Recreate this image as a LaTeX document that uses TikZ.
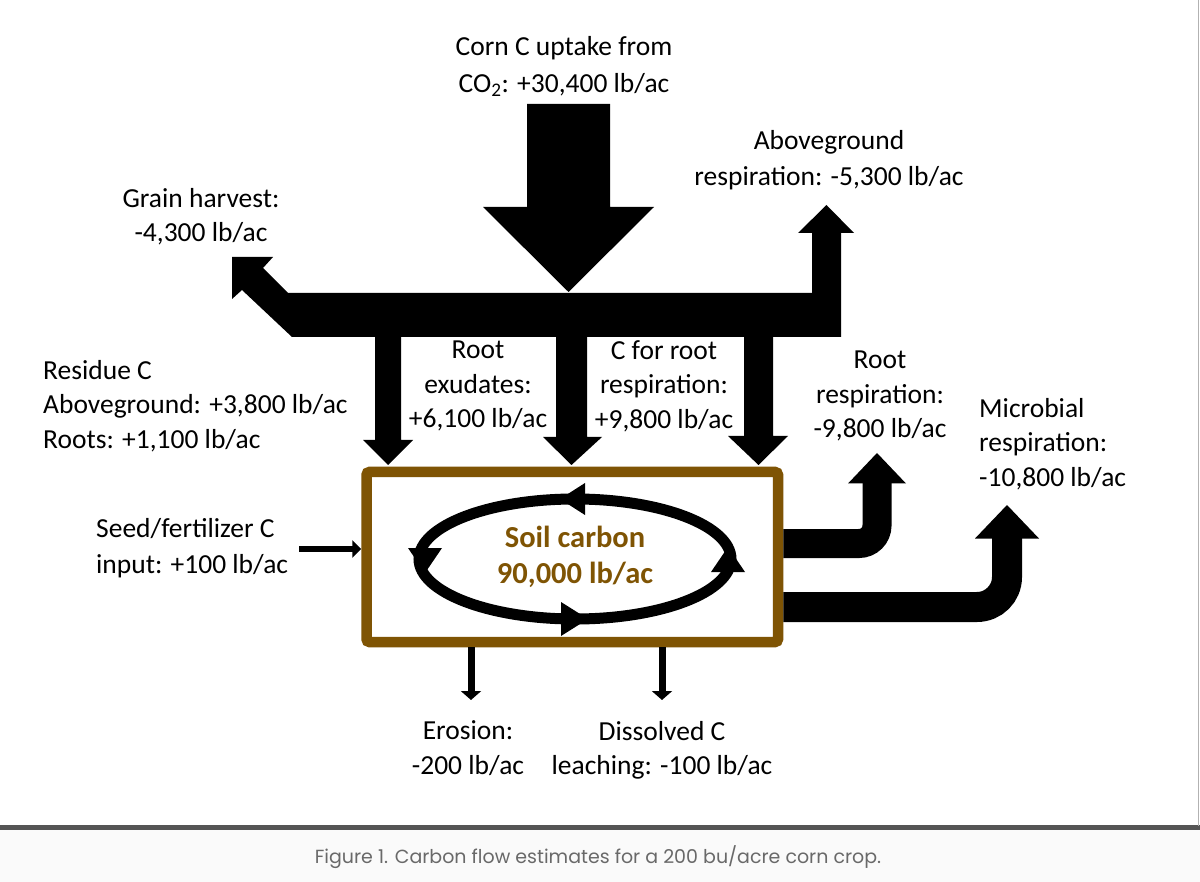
\documentclass[tikz,border=0pt]{standalone}
\usepackage{fontspec}
\setmainfont{Carlito}
\newfontfamily\capfont{Poppins}
\usetikzlibrary{arrows.meta}
\definecolor{soilbrown}{RGB}{127,84,4}
\definecolor{capgray}{RGB}{105,105,105}
\definecolor{rulegray}{RGB}{85,85,85}
\begin{document}
\begin{tikzpicture}[x=1pt,y=-1pt,
  txt/.style={font=\fontsize{27.5}{34.5}\selectfont, inner sep=0pt, align=center},
  ltxt/.style={font=\fontsize{27.5}{34.5}\selectfont, inner sep=0pt, align=left, anchor=west},
  blk/.style={fill=black},
  thinarrow/.style={draw=black, line width=7pt, -{Triangle[length=9pt,width=20pt]}},
  bendarrow/.style={draw=black, line cap=butt}]
\useasboundingbox (0,0) rectangle (1200,882);
\fill[white] (0,0) rectangle (1200,882);
\fill[black!2] (0,827) rectangle (1200,882);
\draw[line width=4.5pt, rulegray] (0,827.5) -- (1200,827.5);
\draw[line width=1.5pt, black!30] (1198.5,0) -- (1198.5,826);

% big input arrow
\fill[blk] (527,104) -- (610,104) -- (610,207) -- (654,207) -- (568.5,292) -- (483,207) -- (527,207) -- cycle;
% main bar with grain harvest and aboveground respiration arrows
\fill[blk] (841,337) -- (292,337) -- (242,290) -- (232,299) -- (232,257) -- (273,257) -- (263,268) -- (288,293)
  -- (812,293) -- (812,233) -- (798,233) -- (826.5,205) -- (854,233) -- (841,233) -- cycle;
% down arrows to soil
\fill[blk] (375,336) -- (401,336) -- (401,440) -- (413,440) -- (388,465) -- (363,440) -- (375,440) -- cycle;
\fill[blk] (556,336) -- (587,336) -- (587,437) -- (602,437) -- (571.5,465) -- (543,437) -- (556,437) -- cycle;
\fill[blk] (744,336) -- (773,336) -- (773,436) -- (788,436) -- (758.5,465) -- (728,436) -- (744,436) -- cycle;

% soil box
\node[draw=soilbrown, line width=10.5pt, minimum width=411.5pt, minimum height=170pt, rounded corners=3pt, inner sep=0pt] (soil) at (572.25,557) {};
% cycle
\draw[line width=11pt] (575,559) ellipse [x radius=156, y radius=60];
\fill[blk] (560,499) -- (585,483) -- (585,515) -- cycle;
\fill[blk] (588,619) -- (561,602) -- (561,636) -- cycle;
\fill[blk] (425,573) -- (408,548) -- (442,548) -- cycle;
\fill[blk] (728,547) -- (711,572) -- (745,572) -- cycle;
\node[txt, font=\bfseries\fontsize{30.5}{36}\selectfont, text=soilbrown] (soiltxt) at (575,557) {Soil carbon\\90,000 lb/ac};

% right respiration arrows
\coordinate (rr) at (877,483);
\coordinate (mr) at (1007,538);
\draw[bendarrow, line width=29pt, rounded corners=18pt] (soil.east |- 0,543.5) -- (877,543.5) -- (rr);
\fill[blk] (848,483.5) -- (906,483.5) -- (877,453) -- cycle;
\draw[bendarrow, line width=30pt, rounded corners=30pt] (soil.east |- 0,607) -- (1007,607) -- (mr);
\fill[blk] (975,538.5) -- (1039,538.5) -- (1007,505) -- cycle;

% small arrows
\coordinate (seed) at (299,549);
\draw[thinarrow, line width=6pt, -{Triangle[length=9pt,width=17pt]}] (seed) -- (soil.west |- seed);
\coordinate (ero) at (471,700);
\coordinate (leach) at (662,700);
\draw[thinarrow] (soil.south -| ero) -- (ero);
\draw[thinarrow] (soil.south -| leach) -- (leach);

% labels
\node[txt, font=\fontsize{27.5}{37}\selectfont] (corn) at (564,66.5) {Corn C uptake from\\CO\textsubscript{2}: +30,400 lb/ac};
\node[txt, font=\fontsize{27.5}{36}\selectfont] (above) at (829,160) {Aboveground\\respiration: -5,300 lb/ac};
\node[txt, font=\fontsize{27.5}{34}\selectfont] (grain) at (201,216.5) {Grain harvest:\\-4,300 lb/ac};
\node[ltxt] (resid) at (43,406) {Residue C\\Aboveground: +3,800 lb/ac\\Roots: +1,100 lb/ac};
\node[txt] (exud) at (478,386) {Root\\exudates:\\+6,100 lb/ac};
\node[txt] (crr) at (664,386) {C for root\\respiration:\\+9,800 lb/ac};
\node[txt] (rootr) at (880,396) {Root\\respiration:\\-9,800 lb/ac};
\node[ltxt] (micr) at (979,444) {Microbial\\respiration:\\-10,800 lb/ac};
\node[ltxt, font=\fontsize{27.5}{36}\selectfont] (seedt) at (96,548) {Seed/fertilizer C\\input: +100 lb/ac};
\node[txt] (erot) at (468,748) {Erosion:\\-200 lb/ac};
\node[txt] (leacht) at (662,750.5) {Dissolved C\\leaching: -100 lb/ac};
\node[font=\capfont\fontsize{19}{22}\selectfont, text=capgray, inner sep=0pt] (cap) at (598,857) {Figure 1. Carbon flow estimates for a 200 bu/acre corn crop.};
\end{tikzpicture}
\end{document}
